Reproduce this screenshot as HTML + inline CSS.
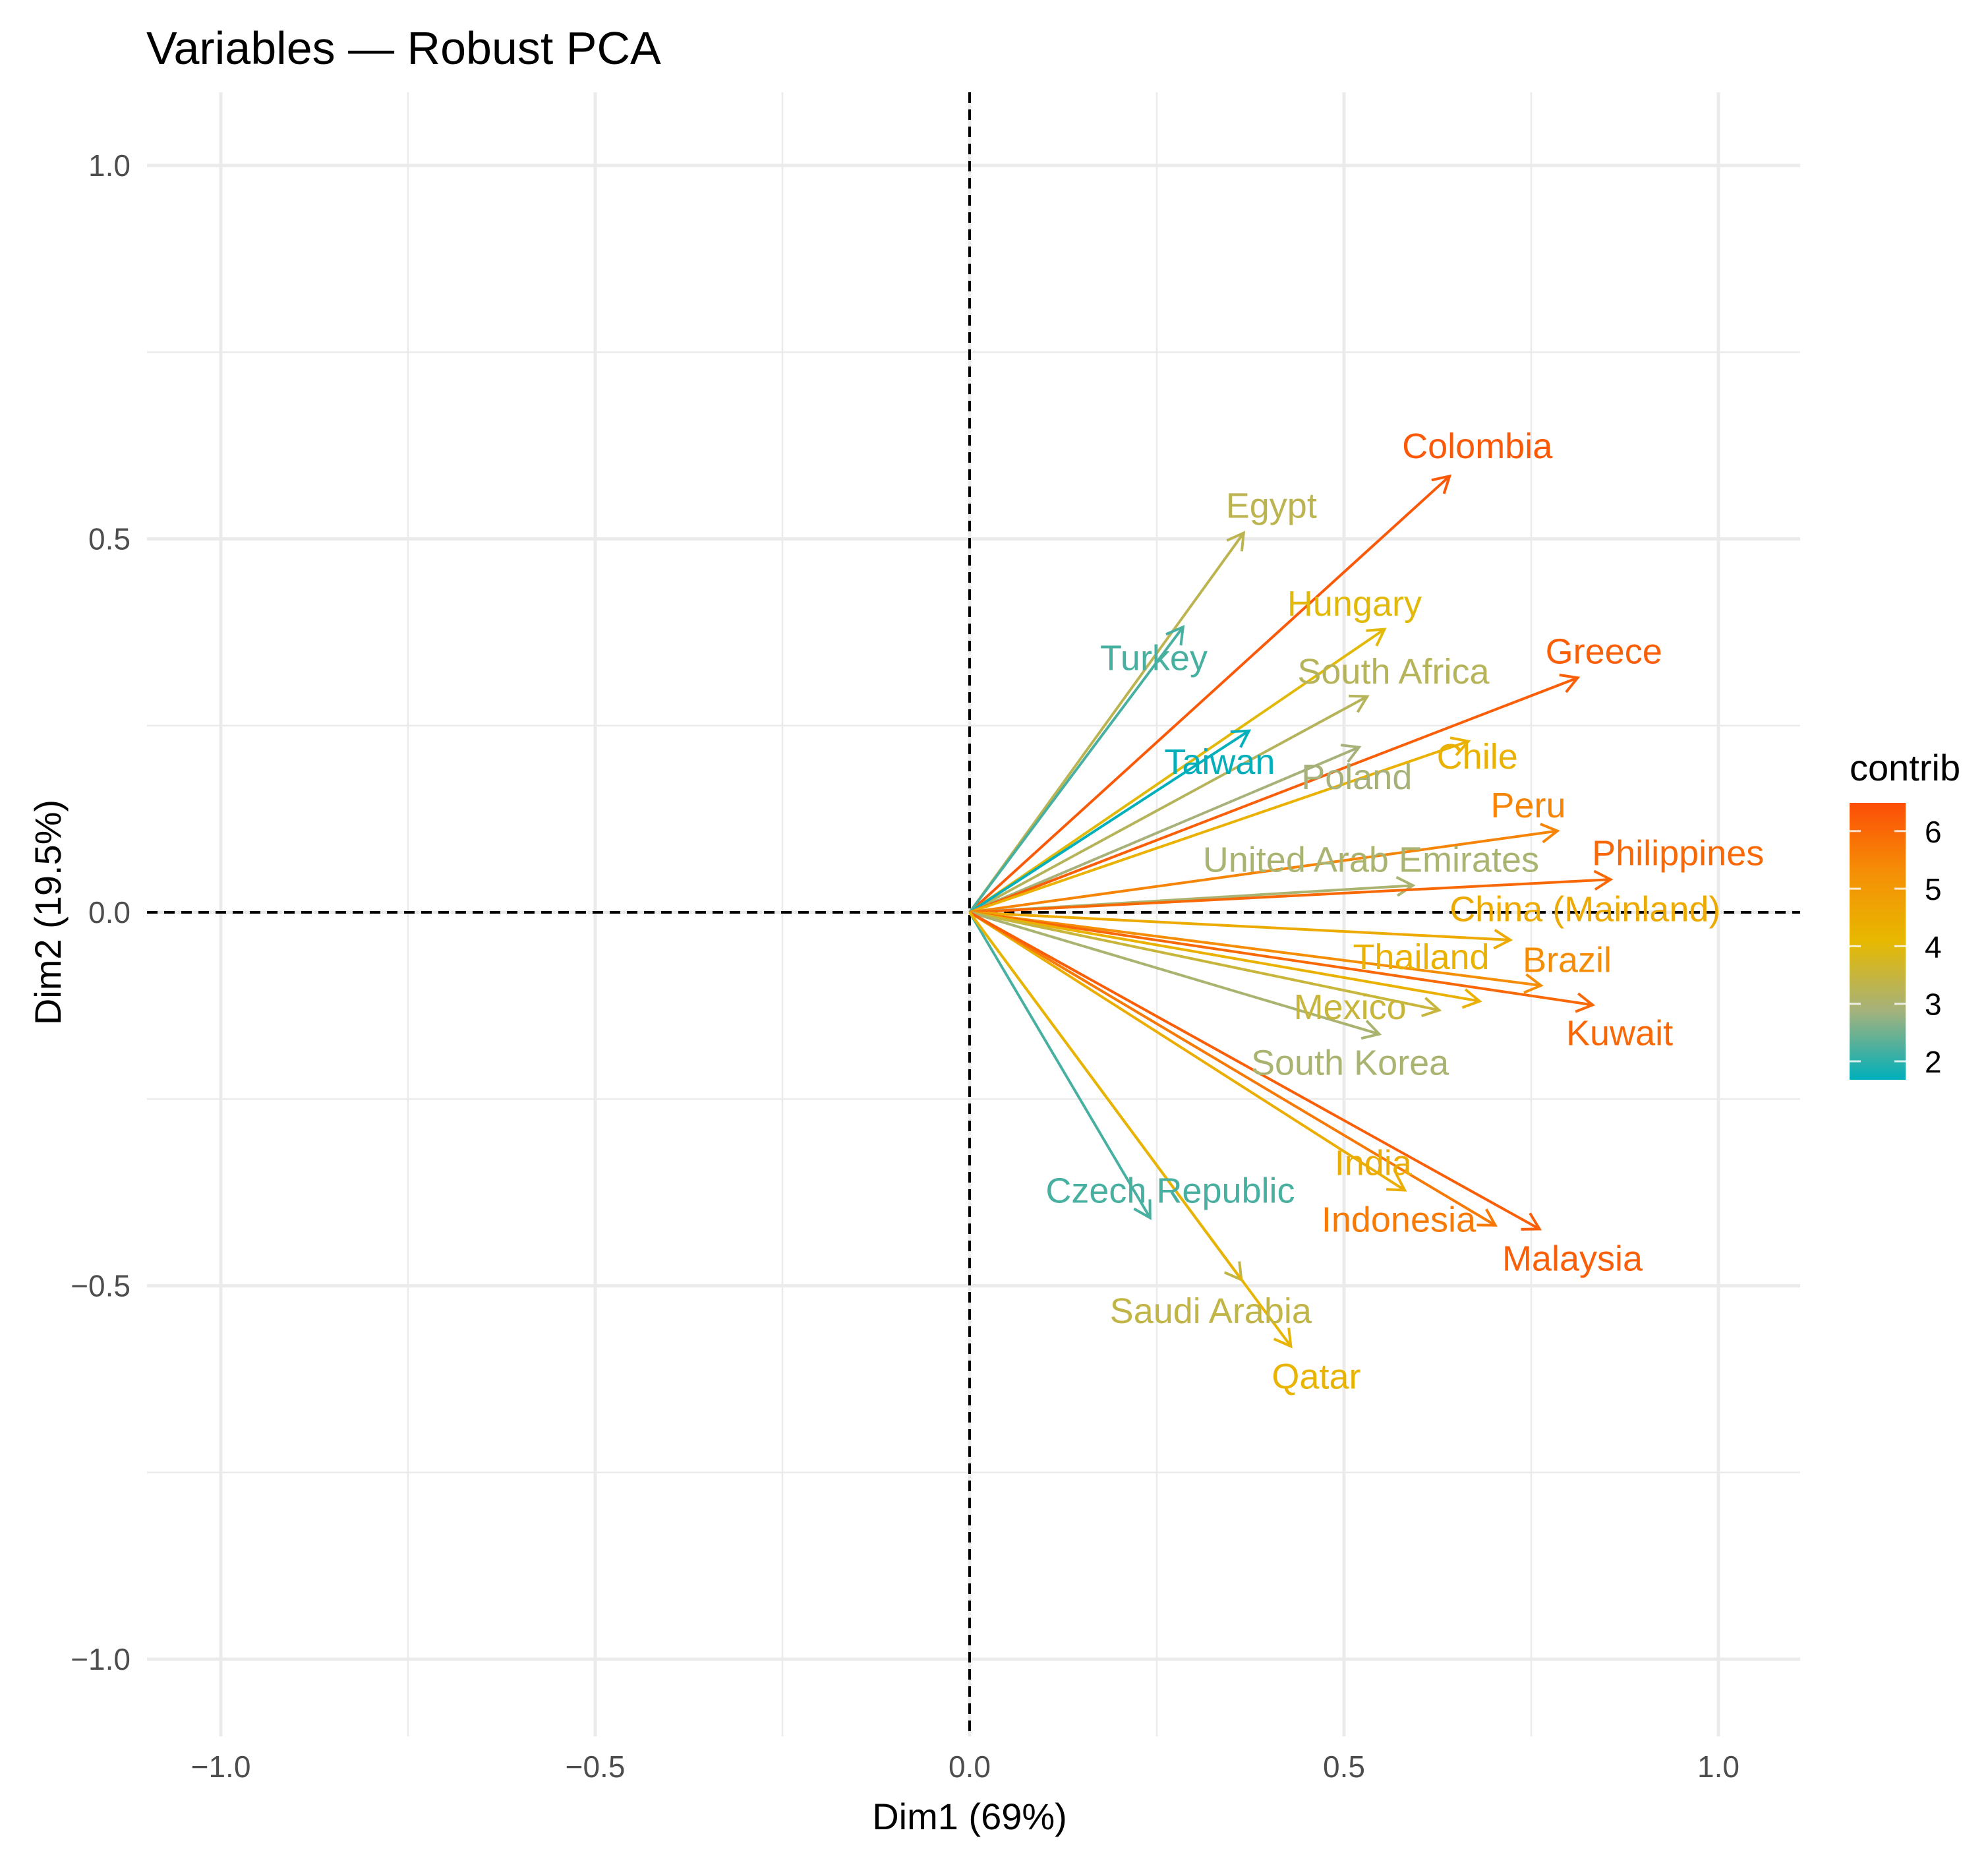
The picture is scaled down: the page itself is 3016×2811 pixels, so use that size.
<!DOCTYPE html>
<html><head><meta charset="utf-8"><style>
html,body{margin:0;padding:0;background:#fff;}
svg{display:block;font-family:"Liberation Sans",sans-serif;}
</style></head><body>
<svg id="chart" width="3016" height="2811" viewBox="0 0 3016 2811" xmlns="http://www.w3.org/2000/svg">
<defs>
<linearGradient id="grad" x1="0" y1="1" x2="0" y2="0">
<stop offset="0" stop-color="#00AFBB"/><stop offset="0.25" stop-color="#A5B27C"/><stop offset="0.5" stop-color="#E7B800"/><stop offset="0.75" stop-color="#F58F06"/><stop offset="1" stop-color="#FC4E07"/>
</linearGradient>
</defs>
<text x="222" y="97" font-size="70" fill="#000">Variables — Robust PCA</text>
<g id="grid"></g>
<g id="axes"></g>
<g id="arrows"></g>
<g id="labels"></g>
<text x="1471" y="2775" font-size="56" text-anchor="middle" fill="#000">Dim1 (69%)</text>
<text x="0" y="0" font-size="56" text-anchor="middle" fill="#000" transform="translate(92,1384) rotate(-90)">Dim2 (19.5%)</text>
<g id="legend">
<text x="2806" y="1184" font-size="56" fill="#000">contrib</text>
<rect x="2806" y="1218" width="85" height="420" fill="url(#grad)"/>
</g>
</svg>
<script>
const names=["Colombia","Egypt","Turkey","Hungary","South Africa","Taiwan","Poland","Greece","Chile","Peru","United Arab Emirates","Philippines","China (Mainland)","Brazil","Kuwait","Thailand","Mexico","South Korea","India","Indonesia","Malaysia","Czech Republic","Saudi Arabia","Qatar"];
const dim1=[0.641,0.366,0.285,0.554,0.531,0.373,0.520,0.812,0.666,0.785,0.592,0.856,0.722,0.763,0.832,0.681,0.627,0.547,0.581,0.702,0.761,0.241,0.363,0.429];
const dim2=[0.584,0.508,0.382,0.379,0.289,0.243,0.221,0.314,0.229,0.109,0.036,0.044,-0.037,-0.098,-0.124,-0.119,-0.131,-0.163,-0.372,-0.419,-0.424,-0.409,-0.492,-0.581];
const contrib=[6.3,3.3,2.2,4.0,3.2,1.7,2.9,6.2,4.3,5.5,3.0,6.0,4.5,5.3,6.0,4.3,3.5,3.0,4.4,5.7,6.2,2.2,3.4,4.2];
const labelX=[0.678,0.403,0.246,0.514,0.566,0.334,0.517,0.847,0.678,0.746,0.536,0.946,0.822,0.798,0.868,0.603,0.508,0.508,0.539,0.573,0.805,0.268,0.322,0.463];
const labelY=[0.625,0.545,0.341,0.414,0.323,0.202,0.182,0.350,0.209,0.144,0.071,0.080,0.005,-0.063,-0.161,-0.059,-0.126,-0.201,-0.335,-0.411,-0.463,-0.372,-0.533,-0.621];
const xTicks=[-1.0,-0.5,0.0,0.5,1.0];
const xTickLabels=["\u22121.0","\u22120.5","0.0","0.5","1.0"];
const yTicks=[-1.0,-0.5,0.0,0.5,1.0];
const yTickLabels=["\u22121.0","\u22120.5","0.0","0.5","1.0"];
const minorTicks=[-0.75,-0.25,0.25,0.75];
const legendTicks=[2,3,4,5,6];
const cMin=1.68,cMax=6.49;

const NS="http://www.w3.org/2000/svg";
const X0=1471,Y0=1384,UX=1136,UY=1133;
const L=223,R=2731,T=140,B=2634;
const sx=v=>X0+v*UX, sy=v=>Y0-v*UY;
function mk(tag,attrs,parent){const e=document.createElementNS(NS,tag);for(const k in attrs)e.setAttribute(k,attrs[k]);parent.appendChild(e);return e;}
function hex(c){return [parseInt(c.slice(1,3),16),parseInt(c.slice(3,5),16),parseInt(c.slice(5,7),16)];}
const stops=["#00AFBB","#A5B27C","#E7B800","#F58F06","#FC4E07"].map(hex);
function col(v){let t=Math.max(0,Math.min(1,(v-cMin)/(cMax-cMin)))*4;let i=Math.min(3,Math.floor(t));let f=t-i;let a=stops[i],b=stops[i+1];
return "rgb("+a.map((x,k)=>Math.round(x+(b[k]-x)*f)).join(",")+")";}

const grid=document.getElementById("grid"),axes=document.getElementById("axes");
minorTicks.forEach(v=>{
 let g=mk("line",{x1:sx(v),x2:sx(v),y1:T,y2:B,stroke:"#ebebeb","stroke-width":2.5},grid);
 
 
 let h=mk("line",{x1:L,x2:R,y1:sy(v),y2:sy(v),stroke:"#ebebeb","stroke-width":2.5},grid);
 
 
});
xTicks.forEach((v,i)=>{
 let g=mk("line",{x1:sx(v),x2:sx(v),y1:T,y2:B,stroke:"#ebebeb","stroke-width":5},grid);
 
 
 let t=mk("text",{x:sx(v),y:2696,"font-size":46,fill:"#4d4d4d","text-anchor":"middle"},axes);
 t.textContent=xTickLabels[i];
 
 
});
yTicks.forEach((v,i)=>{
 let g=mk("line",{x1:L,x2:R,y1:sy(v),y2:sy(v),stroke:"#ebebeb","stroke-width":5},grid);
 
 
 let t=mk("text",{x:198,y:sy(v)+16,"font-size":46,fill:"#4d4d4d","text-anchor":"end"},axes);
 t.textContent=yTickLabels[i];
 
 
});
let hz=mk("line",{x1:L,x2:R,y1:sy(0),y2:sy(0),stroke:"#000","stroke-width":4,"stroke-dasharray":"16 10"},axes);


let vz=mk("line",{x1:sx(0),x2:sx(0),y1:T,y2:B,stroke:"#000","stroke-width":4,"stroke-dasharray":"16 10"},axes);



const arrows=document.getElementById("arrows"),labels=document.getElementById("labels");
names.forEach((n,i)=>{
 const c=col(contrib[i]);
 const x1=sx(0),y1=sy(0),x2=sx(dim1[i]),y2=sy(dim2[i]);
 const ang=Math.atan2(y2-y1,x2-x1),hl=28,ha=Math.PI/6;
 const ax=x2-hl*Math.cos(ang-ha),ay=y2-hl*Math.sin(ang-ha);
 const bx=x2-hl*Math.cos(ang+ha),by=y2-hl*Math.sin(ang+ha);
 const g=mk("g",{},arrows);
 
 
 mk("line",{x1:x1,y1:y1,x2:x2,y2:y2,stroke:c,"stroke-width":4},g);
 mk("polyline",{points:ax+","+ay+" "+x2+","+y2+" "+bx+","+by,fill:"none",stroke:c,"stroke-width":4,"stroke-linejoin":"miter"},g);
 const t=mk("text",{x:sx(labelX[i]),y:sy(labelY[i])+19,"font-size":54,fill:c,"text-anchor":"middle"},labels);
 t.textContent=n;
 
 
});

const legend=document.getElementById("legend");
const lyTop=1218,lyBot=1638;
const ly=v=>lyTop+(cMax-v)/(cMax-cMin)*(lyBot-lyTop);
legendTicks.forEach(v=>{
 const y=ly(v);
 let a=mk("line",{x1:2806,x2:2823,y1:y,y2:y,stroke:"#fff","stroke-width":3,opacity:0.8},legend);
 
 
 let b=mk("line",{x1:2874,x2:2891,y1:y,y2:y,stroke:"#fff","stroke-width":3,opacity:0.8},legend);
 
 
 let t=mk("text",{x:2920,y:y+17,"font-size":46,fill:"#000"},legend);
 t.textContent=v;
 
 
});
</script>
</body></html>
